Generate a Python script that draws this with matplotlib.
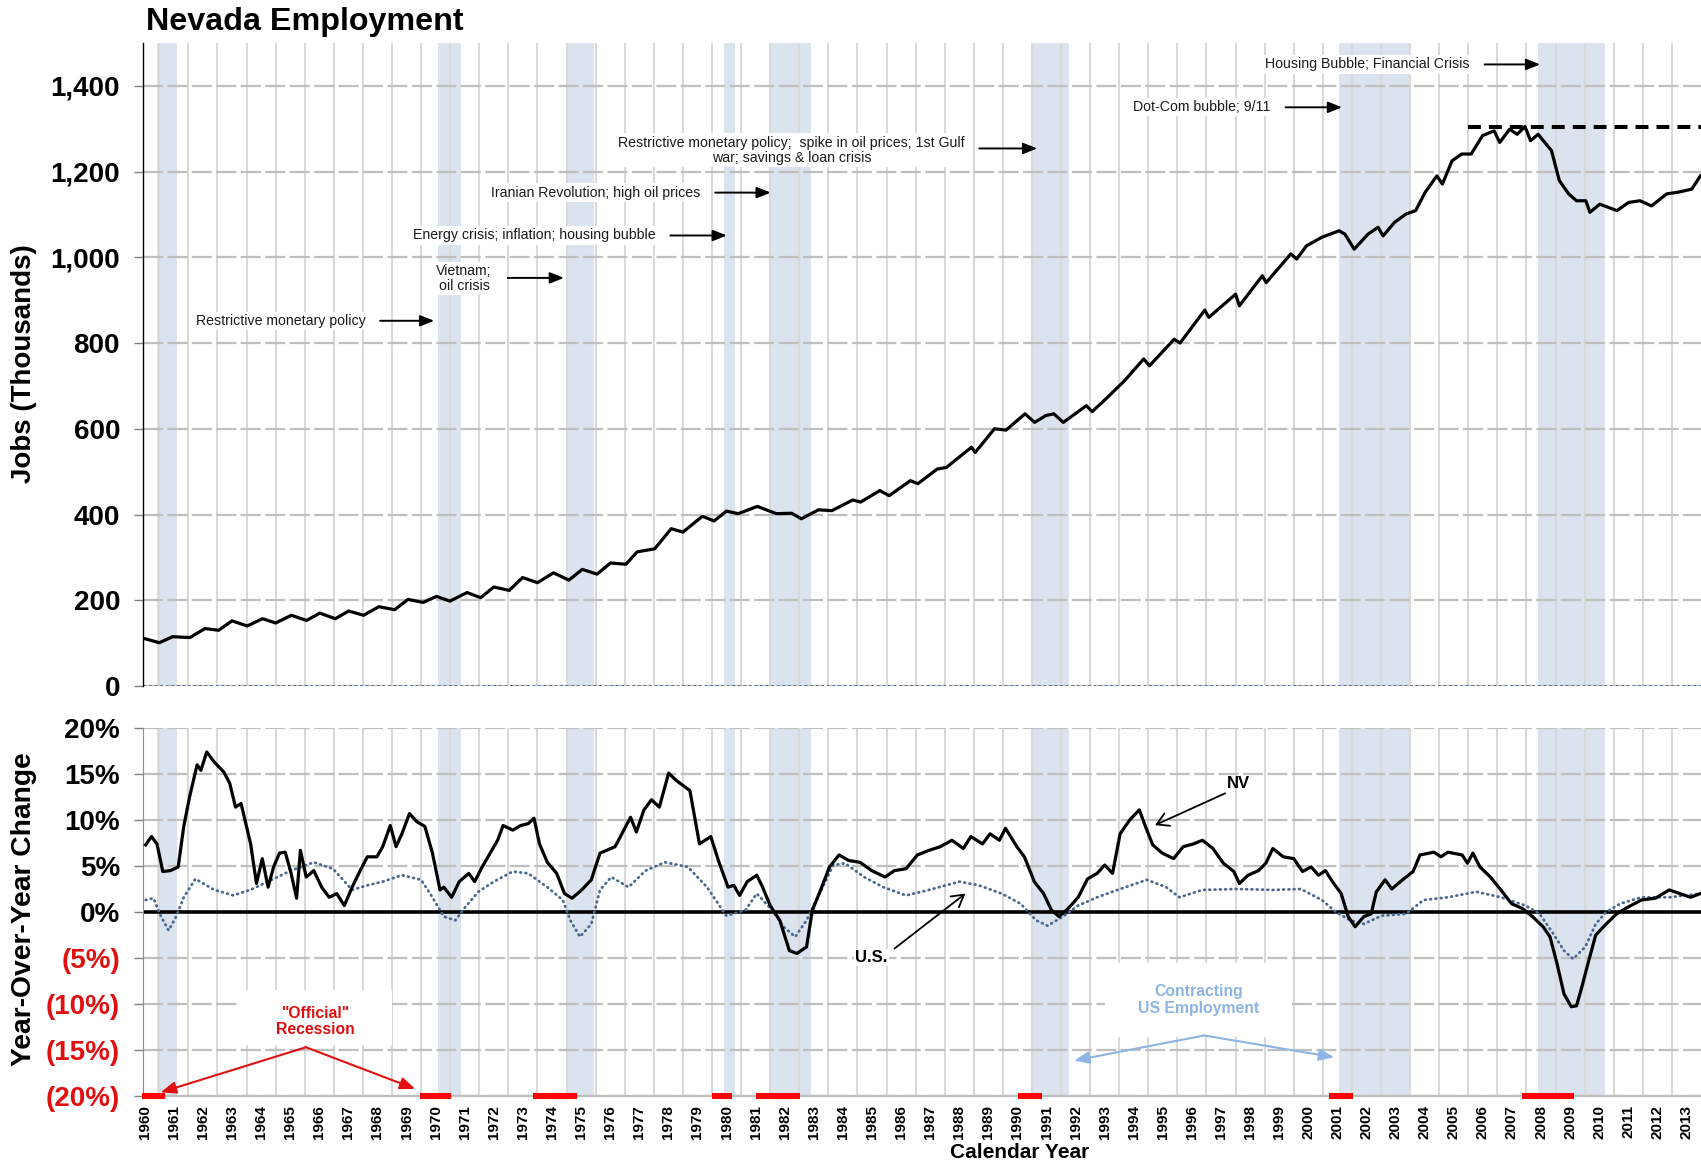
from __future__ import annotations

import matplotlib

matplotlib.use("Agg")
import matplotlib.pyplot as plt
from matplotlib.patches import Rectangle

# ---------------------------------------------------------------------------
# Values (decimal years)
# ---------------------------------------------------------------------------

# Nevada employment, thousands of jobs
emp_years = [
    1960.47, 1961.0, 1961.46, 1962.05, 1962.57, 1963.04, 1963.5, 1964.02, 1964.55, 1965.0,
    1965.54, 1966.06, 1966.52, 1967.05, 1967.51, 1968.02, 1968.55, 1969.09, 1969.55, 1970.07,
    1970.53, 1970.99, 1971.58, 1972.05, 1972.5, 1973.03, 1973.49, 1974.0, 1974.55, 1975.08,
    1975.54, 1976.05, 1976.51, 1977.04, 1977.43, 1978.03, 1978.6, 1979.0, 1979.67, 1980.07,
    1980.5, 1980.9, 1981.56, 1982.21, 1982.74, 1983.07, 1983.66, 1984.12, 1984.84, 1985.11,
    1985.77, 1986.09, 1986.82, 1987.08, 1987.74, 1988.06, 1988.92, 1989.05, 1989.71, 1990.11,
    1990.76, 1991.09, 1991.48, 1991.75, 1992.08, 1992.87, 1993.07, 1993.59, 1994.18, 1994.84,
    1995.04, 1995.89, 1996.09, 1996.94, 1997.08, 1998.0, 1998.13, 1998.92, 1999.05, 1999.9,
    2000.1, 2000.44, 2000.97, 2001.56, 2001.76, 2002.08, 2002.55, 2002.9, 2003.07, 2003.47,
    2003.86, 2004.19, 2004.52, 2004.92, 2005.11, 2005.44, 2005.77, 2006.1, 2006.49, 2006.89,
    2007.08, 2007.42, 2007.68, 2007.95, 2008.14, 2008.4, 2008.86, 2009.13, 2009.45, 2009.72,
    2010.04, 2010.18, 2010.52, 2011.11, 2011.51, 2011.9, 2012.3, 2012.82, 2013.22, 2013.68,
    2013.98,
]
emp_jobs = [
    111, 101, 115, 113, 134, 130, 152, 140, 157, 147,
    165, 153, 170, 157, 175, 165, 185, 178, 202, 195,
    209, 198, 218, 206, 231, 223, 253, 241, 264, 247,
    272, 261, 287, 284, 313, 320, 367, 359, 396, 385,
    408, 402, 419, 402, 403, 390, 411, 409, 434, 429,
    456, 444, 479, 472, 506, 510, 557, 545, 600, 597,
    635, 615, 631, 635, 615, 654, 640, 673, 712, 763,
    747, 809, 800, 877, 860, 914, 887, 957, 941, 1008,
    996, 1027, 1047, 1062, 1054, 1019, 1054, 1070, 1050, 1082,
    1101, 1109, 1152, 1190, 1171, 1225, 1241, 1241, 1284, 1295,
    1268, 1299, 1287, 1305, 1272, 1287, 1249, 1179, 1148, 1132,
    1132, 1105, 1124, 1109, 1128, 1132, 1120, 1148, 1152, 1159,
    1190,
]

# Nevada year-over-year change, percent
nv_yoy_years = [
    1960.53, 1960.73, 1960.92, 1961.12, 1961.38, 1961.65, 1961.84, 1962.04, 1962.3, 1962.43,
    1962.63, 1962.89, 1963.22, 1963.42, 1963.62, 1963.81, 1964.14, 1964.34, 1964.54, 1964.74,
    1964.93, 1965.13, 1965.33, 1965.53, 1965.72, 1965.85, 1966.05, 1966.31, 1966.58, 1966.84,
    1967.1, 1967.36, 1967.63, 1967.89, 1968.15, 1968.48, 1968.68, 1968.94, 1969.14, 1969.34,
    1969.6, 1969.86, 1970.13, 1970.39, 1970.65, 1970.78, 1971.05, 1971.31, 1971.64, 1971.84,
    1972.1, 1972.43, 1972.63, 1972.82, 1973.15, 1973.42, 1973.68, 1973.88, 1974.07, 1974.34,
    1974.66, 1974.93, 1975.19, 1975.52, 1975.85, 1976.15, 1976.67, 1977.2, 1977.4, 1977.66,
    1977.92, 1978.19, 1978.51, 1978.77, 1979.24, 1979.57, 1979.96, 1980.22, 1980.55, 1980.75,
    1980.95, 1981.21, 1981.54, 1981.74, 1982.0, 1982.33, 1982.66, 1982.92, 1983.25, 1983.45,
    1983.71, 1984.04, 1984.37, 1984.7, 1985.09, 1985.49, 1985.95, 1986.27, 1986.67, 1987.06,
    1987.46, 1987.85, 1988.25, 1988.64, 1988.9, 1989.3, 1989.56, 1989.88, 1990.09, 1990.48,
    1990.74, 1991.08, 1991.4, 1991.67, 1991.93, 1992.25, 1992.59, 1992.91, 1993.24, 1993.5,
    1993.77, 1994.03, 1994.36, 1994.69, 1994.89, 1995.15, 1995.48, 1995.87, 1996.2, 1996.55,
    1996.86, 1997.22, 1997.58, 1997.94, 1998.13, 1998.43, 1998.79, 1999.04, 1999.28, 1999.64,
    2000.0, 2000.3, 2000.6, 2000.85, 2001.09, 2001.33, 2001.63, 2001.87, 2002.11, 2002.41,
    2002.66, 2002.84, 2003.14, 2003.37, 2003.74, 2004.1, 2004.34, 2004.82, 2005.06, 2005.3,
    2005.79, 2005.97, 2006.16, 2006.4, 2006.76, 2007.12, 2007.49, 2007.85, 2008.21, 2008.57,
    2008.81, 2009.05, 2009.29, 2009.54, 2009.72, 2009.9, 2010.14, 2010.38, 2010.74, 2011.1,
    2011.47, 2011.95, 2012.43, 2012.91, 2013.28, 2013.64, 2013.98,
]
nv_yoy_pct = [
    7.3, 8.2, 7.4, 4.4, 4.5, 4.9, 9.3, 12.5, 16.0, 15.4,
    17.4, 16.3, 15.2, 14.0, 11.4, 11.8, 7.4, 3.1, 5.8, 2.7,
    4.9, 6.4, 6.5, 4.2, 1.5, 6.7, 3.8, 4.5, 2.7, 1.6,
    2.0, 0.7, 2.7, 4.4, 6.0, 6.0, 7.1, 9.4, 7.1, 8.5,
    10.7, 9.8, 9.3, 6.4, 2.4, 2.7, 1.6, 3.3, 4.2, 3.3,
    4.9, 6.7, 7.8, 9.4, 8.9, 9.4, 9.6, 10.2, 7.4, 5.4,
    4.2, 2.0, 1.5, 2.4, 3.5, 6.4, 7.1, 10.3, 8.7, 11.1,
    12.2, 11.4, 15.1, 14.3, 13.2, 7.4, 8.2, 5.6, 2.7, 2.9,
    1.8, 3.3, 4.0, 2.7, 0.7, -0.9, -4.2, -4.5, -3.8, 0.2,
    2.2, 4.9, 6.2, 5.6, 5.4, 4.5, 3.8, 4.5, 4.7, 6.2,
    6.7, 7.1, 7.8, 6.9, 8.2, 7.4, 8.5, 7.8, 9.1, 7.1,
    6.0, 3.3, 2.0, 0.2, -0.5, 0.4, 1.6, 3.6, 4.2, 5.1,
    4.2, 8.5, 10.0, 11.1, 9.4, 7.3, 6.4, 5.8, 7.1, 7.4,
    7.8, 6.9, 5.3, 4.4, 3.1, 4.0, 4.5, 5.3, 6.9, 6.0,
    5.8, 4.4, 4.9, 4.0, 4.5, 3.3, 2.0, -0.5, -1.6, -0.5,
    -0.2, 2.2, 3.5, 2.5, 3.5, 4.4, 6.2, 6.5, 6.0, 6.5,
    6.2, 5.3, 6.4, 4.9, 3.8, 2.4, 0.9, 0.4, -0.5, -1.6,
    -2.7, -5.6, -8.9, -10.3, -10.2, -8.2, -5.3, -2.5, -1.3, -0.2,
    0.5, 1.3, 1.5, 2.4, 2.0, 1.6, 2.0,
]

# U.S. year-over-year change, percent
us_yoy_years = [
    1960.53, 1960.8, 1961.06, 1961.32, 1961.58, 1961.84, 1962.24, 1962.89, 1963.55, 1964.2,
    1964.86, 1965.52, 1966.31, 1966.97, 1967.63, 1968.15, 1968.68, 1969.34, 1970.0, 1970.39,
    1970.78, 1971.18, 1971.51, 1971.97, 1972.5, 1973.15, 1973.68, 1974.34, 1974.87, 1975.13,
    1975.46, 1975.85, 1976.15, 1976.54, 1977.13, 1977.72, 1978.38, 1979.17, 1979.83, 1980.49,
    1981.15, 1981.54, 1982.07, 1982.46, 1982.86, 1983.25, 1983.64, 1984.17, 1984.57, 1985.23,
    1985.89, 1986.67, 1987.46, 1988.51, 1989.17, 1989.96, 1990.61, 1991.14, 1991.54, 1992.06,
    1992.59, 1993.24, 1994.03, 1994.95, 1995.61, 1996.07, 1996.86, 1998.07, 1999.28, 2000.24,
    2000.97, 2001.45, 2001.94, 2002.41, 2003.02, 2003.86, 2004.46, 2005.3, 2006.28, 2007.12,
    2007.97, 2008.45, 2008.93, 2009.29, 2009.6, 2010.02, 2010.38, 2010.74, 2011.22, 2011.95,
    2012.91, 2013.98,
]
us_yoy_pct = [
    1.3, 1.5, -0.5, -2.0, -0.5, 1.6, 3.6, 2.4, 1.8, 2.5,
    3.5, 4.5, 5.4, 4.7, 2.4, 2.9, 3.3, 4.0, 3.5, 1.6,
    -0.5, -0.9, 0.5, 2.2, 3.3, 4.4, 4.2, 2.7, 1.3, -0.9,
    -2.7, -1.3, 2.4, 3.8, 2.7, 4.5, 5.4, 4.9, 2.7, -0.4,
    0.2, 2.0, 0.2, -1.6, -2.7, -0.9, 1.6, 5.1, 5.3, 3.8,
    2.7, 1.8, 2.4, 3.3, 2.9, 2.0, 0.9, -0.9, -1.5, -0.5,
    0.7, 1.6, 2.5, 3.5, 2.7, 1.6, 2.4, 2.5, 2.4, 2.5,
    1.3, 0.0, -0.9, -1.3, -0.4, -0.2, 1.3, 1.6, 2.2, 1.6,
    0.7, -0.2, -2.4, -4.2, -5.1, -3.8, -1.3, 0.0, 0.9, 1.6,
    1.6, 2.0,
]

# "Official" recessions (red bars)
recession_start = [1960.41, 1969.96, 1973.85, 1980.0, 1981.51, 1990.52, 2001.21, 2007.85]
recession_end = [1961.2, 1971.02, 1975.36, 1980.68, 1983.01, 1991.36, 2002.03, 2009.62]

# Contracting US employment (shaded columns)
contraction_start = [1960.91, 1970.58, 1974.97, 1980.42, 1981.98, 1991.0, 2001.55, 2008.4]
contraction_end = [1961.6, 1971.37, 1975.95, 1980.8, 1983.42, 1992.27, 2004.0, 2010.7]

prior_peak_jobs = 1305
prior_peak_from = 2006.0

year_labels = list(range(1960, 2014))
jobs_ticks = [0, 200, 400, 600, 800, 1000, 1200, 1400]
pct_ticks = [-20, -15, -10, -5, 0, 5, 10, 15, 20]

# ---------------------------------------------------------------------------

X_MIN, X_MAX = 1960.45, 2014.0
BAND = "#dbe4ee"
RED = "#ff0000"
LABEL_RED = "#e01010"
US_BLUE = "#4a6890"
LIGHT_BLUE = "#8db4e2"

plt.rcParams["font.family"] = ["Liberation Sans", "DejaVu Sans"]


def style_axes(ax, show_xlabels: bool) -> None:
    ax.set_xlim(X_MIN, X_MAX)
    ax.set_xticks([y + 0.5 for y in year_labels])
    ax.set_xticks(list(range(1961, 2014)), minor=True)
    if show_xlabels:
        ax.set_xticklabels([str(y) for y in year_labels], rotation=90,
                           fontsize=11, fontweight="bold")
    else:
        ax.set_xticklabels([])
    ax.tick_params(axis="x", which="both", length=0, pad=6.5)
    ax.tick_params(axis="y", length=6.7, width=1, color="#7f7f7f", pad=10,
                   labelsize=20)
    for lbl in ax.get_yticklabels():
        lbl.set_fontweight("bold")
    ax.set_axisbelow(True)
    ax.grid(which="minor", axis="x", color="#d9d9d9", lw=1.5)
    ax.grid(which="major", axis="x", visible=False)
    ax.grid(which="major", axis="y", color="#bfbfbf", lw=1.6, ls=(0, (9, 2)))
    for s, e in zip(contraction_start, contraction_end):
        ax.axvspan(s, e, color=BAND, lw=0, zorder=0.2)
    ax.spines["top"].set_visible(False)
    ax.spines["right"].set_visible(False)


def arrow(ax, start, end, color="black", style="-|>,head_length=0.7,head_width=0.28",
          lw=1.4, scale=12) -> None:
    ax.annotate("", xy=end, xytext=start, zorder=6,
                arrowprops=dict(arrowstyle=style, color=color, lw=lw,
                                mutation_scale=scale, shrinkA=0, shrinkB=0))


def note(ax, x, y, text, ha="right") -> None:
    ax.text(x, y, text, ha=ha, va="center", fontsize=10.2,
            color="#1a1a1a", multialignment="center", linespacing=1.1, zorder=5,
            bbox=dict(fc="white", ec="none", pad=1.5))


def main() -> None:
    fig = plt.figure(figsize=(17.01, 11.66), dpi=100)
    ax_top = fig.add_axes([0.08425, 0.41166, 0.91575, 0.55146])
    ax_bot = fig.add_axes([0.08425, 0.06003, 0.91575, 0.31561])

    # ---- employment level -------------------------------------------------
    ax_top.set_ylim(0, 1500)
    ax_top.set_yticks(jobs_ticks)
    ax_top.set_yticklabels([f"{v:,}" for v in jobs_ticks])
    style_axes(ax_top, show_xlabels=False)
    ax_top.spines["bottom"].set_visible(False)
    ax_top.spines["left"].set_color("black")
    ax_top.spines["left"].set_linewidth(1)
    ax_top.axhline(0, color=US_BLUE, lw=2, ls=(0, (1, 1)), zorder=2)

    ax_top.plot(emp_years, emp_jobs, color="black", lw=2.3, zorder=3)
    ax_top.hlines(prior_peak_jobs, prior_peak_from, X_MAX, colors="black",
                  lw=2.9, linestyles=(0, (3.2, 2)), zorder=4)

    note(ax_top, 1968.08, 852, "Restrictive monetary policy")
    arrow(ax_top, (1968.59, 852), (1970.45, 852))
    note(ax_top, 1971.48, 950, "Vietnam;\noil crisis", ha="center")
    arrow(ax_top, (1972.98, 952), (1974.91, 952))
    note(ax_top, 1978.07, 1051, "Energy crisis; inflation; housing bubble")
    arrow(ax_top, (1978.57, 1051), (1980.51, 1051))
    note(ax_top, 1979.6, 1151, "Iranian Revolution; high oil prices")
    arrow(ax_top, (1980.11, 1151), (1982.02, 1151))
    note(ax_top, 1982.74, 1250,
         "Restrictive monetary policy;  spike in oil prices; 1st Gulf\n"
         "war; savings & loan crisis", ha="center")
    arrow(ax_top, (1989.19, 1254), (1991.18, 1254))
    note(ax_top, 1999.19, 1350, "Dot-Com bubble; 9/11")
    arrow(ax_top, (1999.72, 1350), (2001.66, 1350))
    note(ax_top, 2006.03, 1450, "Housing Bubble; Financial Crisis")
    arrow(ax_top, (2006.56, 1450), (2008.47, 1450))

    # ---- year-over-year change --------------------------------------------
    ax_bot.set_ylim(-20, 20)
    ax_bot.set_yticks(pct_ticks)
    ax_bot.set_yticklabels([f"{v}%" if v >= 0 else f"({-v}%)" for v in pct_ticks])
    style_axes(ax_bot, show_xlabels=True)
    for lbl, v in zip(ax_bot.get_yticklabels(), pct_ticks):
        lbl.set_color(LABEL_RED if v < 0 else "black")
    ax_bot.spines["left"].set_color("#8c8c8c")
    ax_bot.spines["bottom"].set_color("#bfbfbf")
    ax_bot.spines["bottom"].set_linewidth(1.6)

    ax_bot.axhline(0, color="black", lw=2.6, zorder=2.5)
    ax_bot.plot(us_yoy_years, us_yoy_pct, color=US_BLUE, lw=2.0,
                ls=(0, (0.3, 1.6)), dash_capstyle="round", zorder=3)
    ax_bot.plot(nv_yoy_years, nv_yoy_pct, color="black", lw=2.3, zorder=3.5)

    ax_bot.broken_barh([(s, e - s) for s, e in zip(recession_start, recession_end)],
                       (-20.36, 0.66), facecolors=RED, clip_on=False, zorder=5)

    # white panels behind the bottom call-outs
    ax_bot.add_patch(Rectangle((1963.74, -14.51), 5.25, 5.99, fc="white",
                               ec="none", zorder=1))
    ax_bot.add_patch(Rectangle((1993.5, -13.64), 6.43, 8.06, fc="white",
                               ec="none", zorder=1))

    ax_bot.text(1998.11, 14.0, "NV", ha="center", va="center", fontsize=12,
                fontweight="bold", zorder=6)
    arrow(ax_bot, (1997.64, 12.9), (1995.23, 9.44), style="->,head_length=0.6,head_width=0.35",
          lw=1.3, scale=14)
    ax_bot.text(1985.49, -4.93, "U.S.", ha="center", va="center", fontsize=12,
                fontweight="bold", zorder=6, bbox=dict(fc="white", ec="none", pad=1))
    arrow(ax_bot, (1986.27, -3.98), (1988.71, 2.0), style="->,head_length=0.6,head_width=0.35",
          lw=1.3, scale=14)

    ax_bot.text(1966.38, -11.9, '"Official"\nRecession', ha="center", va="center",
                color=LABEL_RED, fontsize=11.3, fontweight="bold", linespacing=1.15,
                zorder=6)
    arrow(ax_bot, (1966.04, -14.7), (1961.05, -19.6), color=LABEL_RED, lw=1.5, scale=13)
    arrow(ax_bot, (1966.04, -14.7), (1969.8, -19.23), color=LABEL_RED, lw=1.5, scale=13)

    ax_bot.text(1996.73, -9.6, "Contracting\nUS Employment", ha="center", va="center",
                color=LIGHT_BLUE, fontsize=11.3, fontweight="bold", linespacing=1.15,
                zorder=6)
    arrow(ax_bot, (1996.92, -13.42), (1992.45, -16.15), color=LIGHT_BLUE, lw=1.5, scale=13)
    arrow(ax_bot, (1996.92, -13.42), (2001.39, -15.79), color=LIGHT_BLUE, lw=1.5, scale=13)

    # ---- titles -----------------------------------------------------------
    fig.text(0.0858, 0.9811, "Nevada Employment", ha="left", va="center",
             fontsize=23.2, fontweight="bold")
    fig.text(0.0141, 0.6883, "Jobs (Thousands)", rotation=90, ha="center", va="center",
             fontsize=20, fontweight="bold")
    fig.text(0.0141, 0.2204, "Year-Over-Year Change", rotation=90, ha="center",
             va="center", fontsize=20.3, fontweight="bold")
    fig.text(0.5997, 0.0112, "Calendar Year", ha="center", va="center",
             fontsize=15, fontweight="bold")

    fig.savefig("out.png", dpi=100, facecolor="white")
    plt.close(fig)


if __name__ == "__main__":
    main()
